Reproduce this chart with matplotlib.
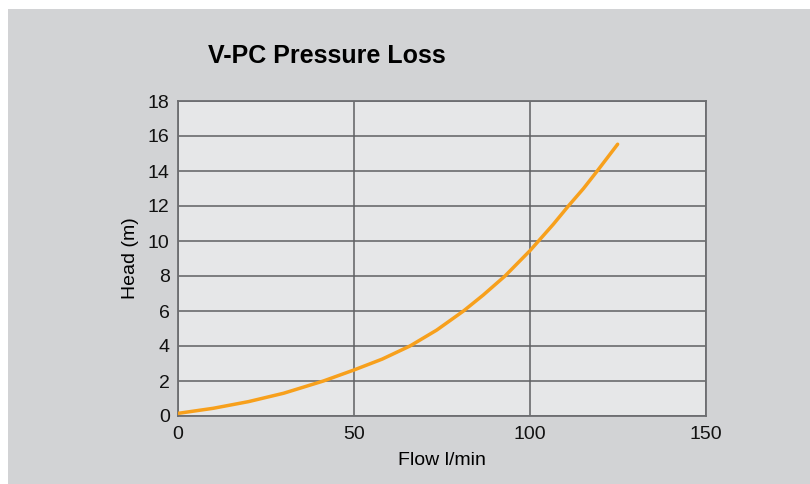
import matplotlib
matplotlib.use("Agg")
import matplotlib.pyplot as plt
from matplotlib.patches import Rectangle

plt.rcParams['font.family'] = ['Liberation Sans', 'DejaVu Sans']

flow = [0, 10, 20, 30, 41.3, 50, 58, 65.9, 73.5, 81.1, 86.7, 92.9, 100,
        106.6, 110.9, 115.2, 119.1, 124.9]
head = [0.15, 0.44, 0.82, 1.3, 2.0, 2.63, 3.25, 4.0, 4.91, 6.0, 6.91, 8.0, 9.45,
        10.95, 12.0, 13.0, 14.0, 15.53]

xticks = [0, 50, 100, 150]
yticks = [0, 2, 4, 6, 8, 10, 12, 14, 16, 18]

fig = plt.figure(figsize=(8.1, 4.84), dpi=100, facecolor='white')
# grey panel, white strip on top and left
fig.patches.append(Rectangle((8/810, 0), 1, 1 - 9/484, transform=fig.transFigure,
                             facecolor='#d2d3d5', edgecolor='none', zorder=-10))

ax = fig.add_axes([178/810, 1 - 416/484, (706-178)/810, (416-101)/484])
ax.set_facecolor('#e6e7e8')
ax.plot(flow, head, color='#f7a01c', linewidth=2.5, solid_capstyle='round',
        solid_joinstyle='round', zorder=3)

ax.set_xlim(0, 150)
ax.set_ylim(0, 18)
ax.set_xticks(xticks)
ax.set_yticks(yticks)
ax.grid(True, color='#5f6062', linewidth=1.1)
ax.set_axisbelow(True)
for s in ax.spines.values():
    s.set_color('#6d6e71')
    s.set_linewidth(1.3)
ax.tick_params(length=0, labelsize=14, colors='#111111', pad=6)
ax.tick_params(axis='x', pad=7)

ax.set_xlabel('Flow l/min', fontsize=14, labelpad=7)
ax.set_ylabel('Head (m)', fontsize=14, labelpad=6)

fig.text(327/810, 1 - 56/484, 'V-PC Pressure Loss', fontsize=18, fontweight='bold',
         ha='center', va='center')

fig.savefig('out.png', dpi=100)
